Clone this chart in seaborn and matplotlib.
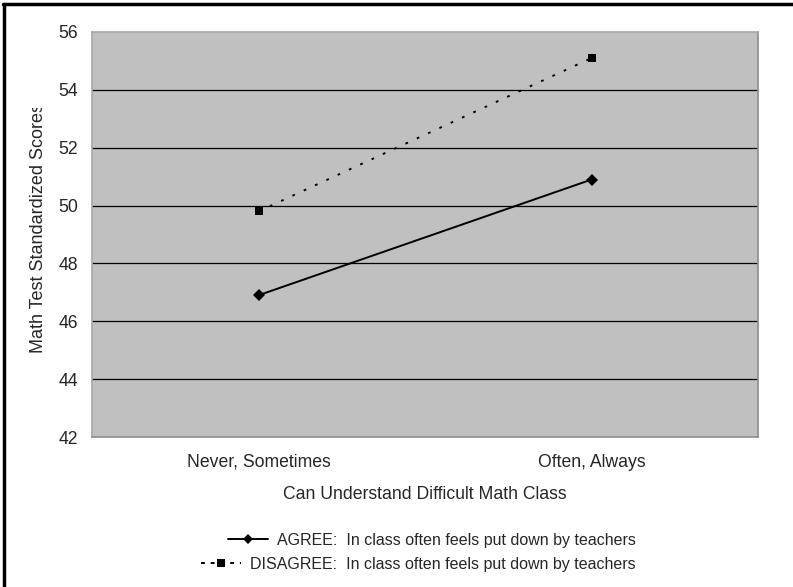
"""
Math test scores by understanding of difficult math class
"""
import pandas as pd
import matplotlib.pyplot as plt
import seaborn as sns
from matplotlib.lines import Line2D
from matplotlib.patches import Rectangle

categories = ["Never, Sometimes", "Often, Always"]
agree_scores = [46.9, 50.9]
disagree_scores = [49.8, 55.1]
series_names = ["AGREE:  In class often feels put down by teachers",
                "DISAGREE:  In class often feels put down by teachers"]
y_ticks = [42, 44, 46, 48, 50, 52, 54, 56]

data = pd.DataFrame({
    "category": categories * 2,
    "score": agree_scores + disagree_scores,
    "series": [series_names[0]] * 2 + [series_names[1]] * 2,
})
data["pos"] = [0, 1, 0, 1]

sns.set_style("white")
plt.rcParams["font.family"] = ["Liberation Sans", "DejaVu Sans"]

W, H = 793, 587
fig = plt.figure(figsize=(W / 100, H / 100), dpi=100)
ax = fig.add_axes([0.116, 0.2555, 0.84, 0.69])
ax.set_facecolor("#c0c0c0")

sns.lineplot(
    data=data, x="pos", y="score", hue="series", style="series",
    palette=["black", "black"],
    markers={series_names[0]: "D", series_names[1]: "s"},
    dashes={series_names[0]: "", series_names[1]: (1.4, 5)},
    markersize=6, linewidth=1.4, markeredgewidth=0, ax=ax, legend=False,
)

ax.set_xlim(-0.5, 1.5)
ax.set_ylim(42, 56)
ax.set_yticks(y_ticks)
ax.set_yticklabels([str(t) for t in y_ticks], fontsize=12.7)
ax.set_xticks([0, 1])
ax.set_xticklabels(categories, fontsize=12.7)
ax.tick_params(axis="y", length=0, pad=10)
ax.tick_params(axis="x", length=0, pad=12)
for t in y_ticks[1:-1]:
    ax.axhline(t, color="black", linewidth=0.9, zorder=1)
for s in ax.spines.values():
    s.set_color("#8c8c8c")
    s.set_linewidth(1.2)
ax.spines["top"].set_color("#a8a8a8")
ax.spines["left"].set_color("#a8a8a8")

ax.set_xlabel("Can Understand Difficult Math Class", fontsize=12.7, labelpad=11)
ax.set_ylabel("")

# y label sits low and is cut off at the top, as in the original
ylab = fig.text(39 / W, 1 - 353 / H, "Math Test Standardized Scores", fontsize=13,
                rotation=90, ha="center", va="bottom")
ylab.set_clip_path(Rectangle((0, 0), 1, 1 - 108 / H, transform=fig.transFigure))

handles = [
    Line2D([], [], color="black", linewidth=1.4, marker="D", markersize=5, markeredgewidth=0),
    Line2D([], [], color="black", linewidth=1.4, linestyle=(0, (2, 3)), marker="s", markersize=6, markeredgewidth=0),
]
for handle, name, ypix in zip(handles, series_names, [540, 564]):
    leg = fig.legend([handle], [name], loc="center right",
                     bbox_to_anchor=(636 / W, 1 - ypix / H), frameon=False,
                     fontsize=11.5, handlelength=2.5, handletextpad=0.6,
                     borderpad=0, borderaxespad=0)

# figure border on left and top edges
fig.add_artist(Line2D([0.005, 0.005], [0, 0.993], color="black", linewidth=2.5,
                      transform=fig.transFigure))
fig.add_artist(Line2D([0.004, 1], [0.993, 0.993], color="black", linewidth=2.5,
                      transform=fig.transFigure))

fig.savefig("out.png", dpi=100)
